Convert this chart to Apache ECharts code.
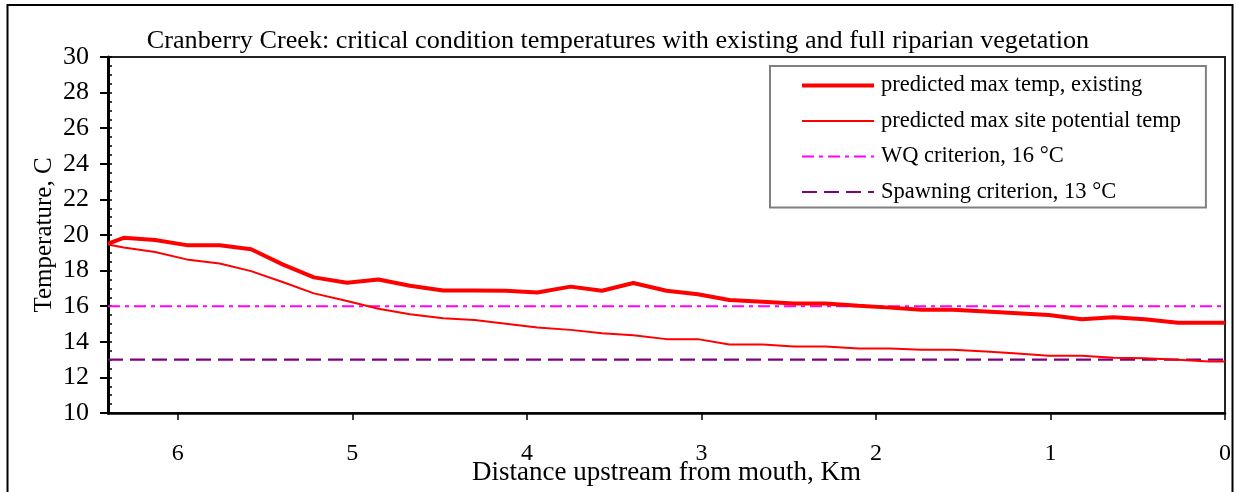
<!DOCTYPE html>
<html>
<head>
<meta charset="utf-8">
<script src="https://cdn.jsdelivr.net/npm/echarts@6/dist/echarts.min.js"></script>
<style>
  html, body { margin: 0; padding: 0; background: #fff; }
  #chart { width: 1236px; height: 492px; }
</style>
</head>
<body>
<div id="chart"></div>
<script>
// distance upstream from mouth, km
var distKm = [6.40, 6.31, 6.13, 5.95, 5.76, 5.58, 5.40, 5.22, 5.03, 4.85, 4.67, 4.48, 4.30,
  4.12, 3.94, 3.75, 3.57, 3.39, 3.20, 3.02, 2.84, 2.65, 2.47, 2.29, 2.10, 1.92, 1.74,
  1.56, 1.37, 1.19, 1.01, 0.82, 0.64, 0.46, 0.27, 0.09, 0.00]
// predicted max temp, existing vegetation
var tempExisting = [19.52, 19.84, 19.72, 19.43, 19.43, 19.20, 18.35, 17.62, 17.32, 17.50, 17.15, 16.88, 16.88,
  16.87, 16.77, 17.10, 16.87, 17.30, 16.87, 16.67, 16.35, 16.25, 16.15, 16.15, 16.03, 15.92, 15.80,
  15.80, 15.70, 15.60, 15.50, 15.27, 15.38, 15.27, 15.07, 15.07, 15.07]
// predicted max site potential temp
var tempPotential = [19.47, 19.30, 19.05, 18.63, 18.40, 17.97, 17.36, 16.72, 16.29, 15.86, 15.55, 15.32, 15.23,
  15.02, 14.80, 14.67, 14.48, 14.37, 14.15, 14.15, 13.85, 13.85, 13.74, 13.74, 13.62, 13.62, 13.55,
  13.55, 13.46, 13.34, 13.21, 13.21, 13.10, 13.08, 12.99, 12.90, 12.90]
// criterion lines, from the upstream end to the mouth
var critKm = [6.40, 0.00]
var critWQ = [16, 16]
var critSpawn = [13, 13]

var seriesNames = ['predicted max temp, existing', 'predicted max site potential temp',
  'WQ criterion, 16 °C', 'Spawning criterion, 13 °C']

function pairs(xs, ys) {
  return xs.map(function (x, i) { return [x, ys[i]] })
}

var serif = 'Liberation Serif'
var plotBox = { left: 108, right: 11, top: 57, bottom: 79, outerBoundsMode: 'none', containLabel: false }
var chart = echarts.init(document.getElementById('chart'))

chart.setOption({
  backgroundColor: '#fff',
  animation: false,
  title: {
    text: 'Cranberry Creek: critical condition temperatures with existing and full riparian vegetation',
    left: 'center',
    top: 23,
    textStyle: { fontFamily: serif, fontSize: 26.2, fontWeight: 'normal', color: '#000' }
  },
  legend: {
    orient: 'vertical',
    left: 770,
    top: 66,
    padding: [8, 25, 4, 30],
    itemWidth: 72,
    itemHeight: 14,
    itemGap: 12.5,
    borderColor: '#808080',
    borderWidth: 2,
    data: [
      { name: seriesNames[0], lineStyle: { width: 4 } },
      { name: seriesNames[1], lineStyle: { width: 2 } },
      { name: seriesNames[2] },
      { name: seriesNames[3] }
    ],
    itemStyle: { opacity: 0 },
    textStyle: { fontFamily: serif, fontSize: 22.5, lineHeight: 22, color: '#000', padding: [0, 0, 0, 2] }
  },
  graphic: [{
    type: 'rect',
    shape: { x: 7.5, y: 5, width: 1225, height: 520 },
    style: { fill: 'none', stroke: '#000', lineWidth: 2 },
    silent: true
  }],
  grid: [
    Object.assign({ show: true, borderColor: '#222', borderWidth: 2 }, plotBox),
    // same box again, only carries the inside minor ticks
    Object.assign({}, plotBox)
  ],
  xAxis: [{
    type: 'value',
    inverse: true,
    min: 0,
    max: 6.4,
    interval: 1,
    name: 'Distance upstream from mouth, Km',
    nameLocation: 'middle',
    nameGap: 46,
    nameMoveOverlap: false,
    nameTextStyle: { fontFamily: serif, fontSize: 27, color: '#000' },
    axisLine: { onZero: false, lineStyle: { color: '#000', width: 2.5 } },
    axisTick: { length: 7, lineStyle: { color: '#000', width: 1.5 } },
    axisLabel: {
      margin: 29,
      fontFamily: serif,
      fontSize: 24,
      color: '#000',
      showMaxLabel: false,
      formatter: function (v) { return Number.isInteger(v) ? String(v) : '' }
    },
    splitLine: { show: false }
  }, {
    gridIndex: 1,
    type: 'value',
    inverse: true,
    min: 0,
    max: 6.4,
    show: false
  }],
  yAxis: [{
    type: 'value',
    min: 10,
    max: 30,
    interval: 2,
    name: 'Temperature, C',
    nameLocation: 'middle',
    nameGap: 51,
    nameMoveOverlap: false,
    nameTextStyle: { fontFamily: serif, fontSize: 25, color: '#000' },
    axisLine: { show: true, onZero: false, lineStyle: { color: '#000', width: 3 } },
    axisTick: { show: true, length: 8, lineStyle: { color: '#000', width: 2 } },
    axisLabel: { margin: 19, fontFamily: serif, fontSize: 26, color: '#000' },
    splitLine: { show: false }
  }, {
    gridIndex: 1,
    type: 'value',
    position: 'left',
    min: 10,
    max: 30,
    interval: 0.5,
    axisLine: { show: false, onZero: false },
    axisTick: { show: true, inside: true, length: 4, lineStyle: { color: '#000', width: 1.5 } },
    axisLabel: { show: false },
    splitLine: { show: false }
  }],
  series: [{
    name: seriesNames[0],
    type: 'line',
    showSymbol: false,
    symbol: 'none',
    data: pairs(distKm, tempExisting),
    lineStyle: { color: '#ff0000', width: 4 },
    itemStyle: { color: '#ff0000' },
    z: 5
  }, {
    name: seriesNames[1],
    type: 'line',
    showSymbol: false,
    symbol: 'none',
    data: pairs(distKm, tempPotential),
    lineStyle: { color: '#ff0000', width: 2 },
    itemStyle: { color: '#ff0000' },
    z: 4
  }, {
    name: seriesNames[2],
    type: 'line',
    showSymbol: false,
    symbol: 'none',
    data: pairs(critKm, critWQ),
    lineStyle: { color: '#ff00ff', width: 2, type: [12, 5, 4, 5] },
    itemStyle: { color: '#ff00ff' },
    z: 3
  }, {
    name: seriesNames[3],
    type: 'line',
    showSymbol: false,
    symbol: 'none',
    data: pairs(critKm, critSpawn),
    lineStyle: { color: '#800080', width: 2.3, type: [15, 7] },
    itemStyle: { color: '#800080' },
    z: 3
  }]
})
</script>
</body>
</html>
